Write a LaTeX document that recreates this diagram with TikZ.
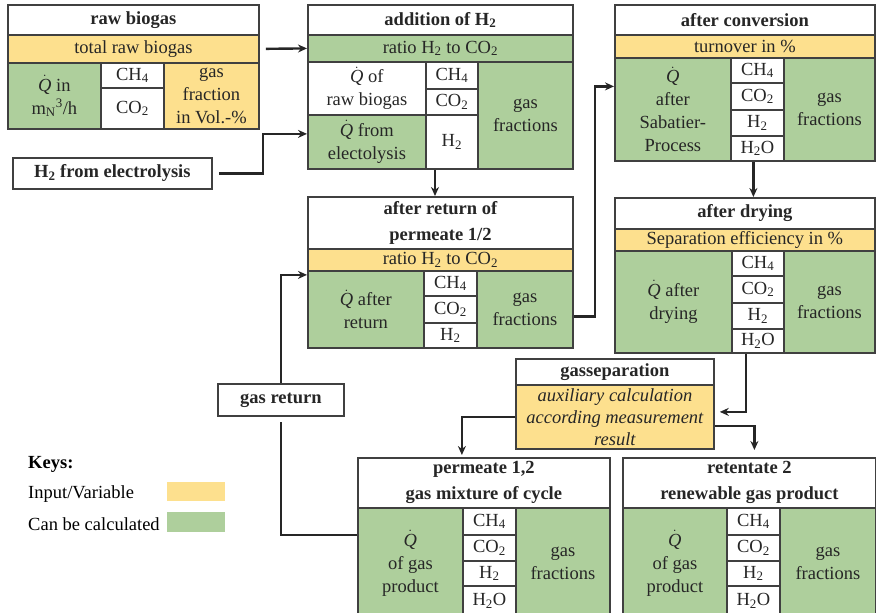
\documentclass[tikz,border=0pt]{standalone}
\usepackage{fontspec}
\setmainfont{Liberation Serif}
\usetikzlibrary{arrows.meta}
\definecolor{ingelb}{HTML}{FDE08E}
\definecolor{calcgruen}{HTML}{AECF9C}
\definecolor{rand}{HTML}{404040}
\newcommand{\cHfour}{CH\textsubscript{4}}
\newcommand{\cOtwo}{CO\textsubscript{2}}
\newcommand{\hTwo}{H\textsubscript{2}}
\newcommand{\hTwoO}{H\textsubscript{2}O}
\newcommand{\qdot}{$\dot{\hbox{\itshape Q}}$}
\newcommand{\cel}[7]{\node[cell,#2,minimum width=#5pt,minimum height=#6pt] (#1) at (#3,#4) {#7};}
\tikzset{
  cell/.style={draw=rand, line width=1.8pt, anchor=north west, inner sep=0pt, align=center, text=black!85},
  titel/.style={fill=white, font=\fontsize{18.5}{26}\selectfont\bfseries},
  gelb/.style={fill=ingelb},
  gruen/.style={fill=calcgruen},
  weiss/.style={fill=white},
  swatch/.style={anchor=north west, minimum width=58pt, inner sep=0pt},
  arr/.style={-{Stealth[length=9pt,width=8pt]}, line width=2.4pt, black!85},
}
\begin{document}
\begin{tikzpicture}[x=1pt,y=-1pt,font=\fontsize{18.5}{23}\selectfont]
\useasboundingbox (0,0) rectangle (876,613);
\cel{Atit}{titel}{7}{4}{251}{30}{raw biogas}
\cel{Ain}{gelb}{7}{34}{251}{28}{total raw biogas}
\cel{Aq}{gruen}{7}{62}{93}{66}{\qdot{} in\\m\textsubscript{N}\textsuperscript{3}/h}
\cel{Ach}{weiss}{100}{62}{63}{25}{\cHfour}
\cel{Aco}{weiss}{100}{87}{63}{41}{\cOtwo}
\cel{Agf}{gelb}{163}{62}{95}{66}{gas\\fraction\\in Vol.-\%}

\cel{Btit}{titel}{307}{4}{265}{30}{addition of \hTwo}
\cel{Bratio}{gruen}{307}{34}{265}{27}{ratio \hTwo{} to \cOtwo}
\cel{Bq1}{weiss}{307}{61}{118}{53}{\qdot{} of\\raw biogas}
\cel{Bq2}{gruen}{307}{114}{118}{54}{\qdot{} from\\electolysis}
\cel{Bch}{weiss}{425}{61}{52}{27}{\cHfour}
\cel{Bco}{weiss}{425}{88}{52}{26}{\cOtwo}
\cel{Bh}{weiss}{425}{114}{52}{54}{\hTwo}
\cel{Bgf}{gruen}{477}{61}{95}{107}{gas\\fractions}

\cel{Ctit}{titel}{307}{196}{265}{52}{after return of\\permeate 1/2}
\cel{Cratio}{gelb}{307}{248}{265}{22}{ratio \hTwo{} to \cOtwo}
\cel{Cq}{gruen}{307}{270}{116}{77}{\qdot{} after\\return}
\cel{Cch}{weiss}{423}{270}{53}{25}{\cHfour}
\cel{Cco}{weiss}{423}{295}{53}{27}{\cOtwo}
\cel{Ch}{weiss}{423}{322}{53}{25}{\hTwo}
\cel{Cgf}{gruen}{476}{270}{96}{77}{gas\\fractions}

\cel{Dtit}{titel}{614}{4}{260}{30}{after conversion}
\cel{Dturn}{gelb}{614}{34}{260}{23}{turnover in \%}
\cel{Dq}{gruen}{614}{57}{116}{103}{\qdot\\after\\Sabatier-\\Process}
\cel{Dch}{weiss}{730}{57}{53}{25}{\cHfour}
\cel{Dco}{weiss}{730}{82}{53}{27}{\cOtwo}
\cel{Dh}{weiss}{730}{109}{53}{26}{\hTwo}
\cel{Dhho}{weiss}{730}{135}{53}{25}{\hTwoO}
\cel{Dgf}{gruen}{783}{57}{91}{103}{gas\\fractions}

\cel{Etit}{titel}{614}{197}{260}{31}{after drying}
\cel{Esep}{gelb}{614}{228}{260}{22}{Separation efficiency in \%}
\cel{Eq}{gruen}{614}{250}{117}{102}{\qdot{} after\\drying}
\cel{Ech}{weiss}{731}{250}{52}{25}{\cHfour}
\cel{Eco}{weiss}{731}{275}{52}{27}{\cOtwo}
\cel{Eh}{weiss}{731}{302}{52}{26}{\hTwo}
\cel{Ehho}{weiss}{731}{328}{52}{24}{\hTwoO}
\cel{Egf}{gruen}{783}{250}{91}{102}{gas\\fractions}

\cel{Ftit}{titel}{515}{358}{198}{26}{gasseparation}
\cel{Faux}{gelb,font=\fontsize{18.5}{22}\selectfont\itshape}{515}{384}{198}{64}{auxiliary calculation\\according measurement\\result}

\cel{Gtit}{titel}{357}{457}{252}{50}{permeate 1,2\\gas mixture of cycle}
\cel{Gq}{gruen}{357}{507}{105}{110}{\qdot\\of gas\\product}
\cel{Gch}{weiss}{462}{507}{53}{27}{\cHfour}
\cel{Gco}{weiss}{462}{534}{53}{26}{\cOtwo}
\cel{Gh}{weiss}{462}{560}{53}{25}{\hTwo}
\cel{Ghho}{weiss}{462}{585}{53}{30}{\hTwoO}
\cel{Ggf}{gruen}{515}{507}{94}{110}{gas\\fractions}

\cel{Htit}{titel}{622}{457}{253}{50}{retentate 2\\renewable gas product}
\cel{Hq}{gruen}{622}{507}{104}{110}{\qdot\\of gas\\product}
\cel{Hch}{weiss}{726}{507}{53}{27}{\cHfour}
\cel{Hco}{weiss}{726}{534}{53}{26}{\cOtwo}
\cel{Hh}{weiss}{726}{560}{53}{25}{\hTwo}
\cel{Hhho}{weiss}{726}{585}{53}{30}{\hTwoO}
\cel{Hgf}{gruen}{779}{507}{96}{110}{gas\\fractions}

\cel{elek}{titel}{12}{157}{199}{31}{\hTwo{} from electrolysis}
\cel{rueck}{titel}{217}{383}{126}{32}{gas return}

\node[anchor=west,inner sep=0pt,font=\fontsize{18.5}{22}\selectfont\bfseries] (keys) at (28,464) {Keys:};
\node[anchor=west,inner sep=0pt] (kin) at (28,494) {Input/Variable};
\node[anchor=west,inner sep=0pt] (kcalc) at (28,524) {Can be calculated};
\node[swatch,fill=ingelb,minimum height=19pt] (sgelb) at (167,482) {};
\node[swatch,fill=calcgruen,minimum height=20pt] (sgruen) at (167,512) {};

\draw[arr,shorten <=6pt] (Ain.east) -- (Bratio.west);
\draw[arr,shorten <=6pt] (elek.east) -- ++(50,0) |- ([yshift=8pt]Bq2.west);
\draw[arr] ([xshift=10pt]Bh.south west) -- ([xshift=10pt]Bh.south west |- Ctit.north);
\draw[arr] ([yshift=-7pt]Cgf.east) -- ++(21,0) |- ([yshift=23pt]Dq.west);
\draw[arr] ([xshift=-4pt]Dhho.south) -- ([xshift=-4pt]Dhho.south |- Etit.north);
\draw[arr,shorten >=5pt] ([xshift=-12pt]Ehho.south) |- ([yshift=5pt]Faux.east);
\draw[arr,shorten >=2pt] (Faux.west) -| ([xshift=-22pt]Gtit.north);
\draw[arr,shorten >=7pt] ([yshift=-9pt]Faux.east) -| ([xshift=5pt]Htit.north);
\draw[line width=2.4pt,black!85,shorten >=5pt] ([yshift=28pt]Gq.west) -| (rueck.south);
\draw[arr] (rueck.north) |- ([yshift=34.5pt]Cq.west);
\end{tikzpicture}
\end{document}
